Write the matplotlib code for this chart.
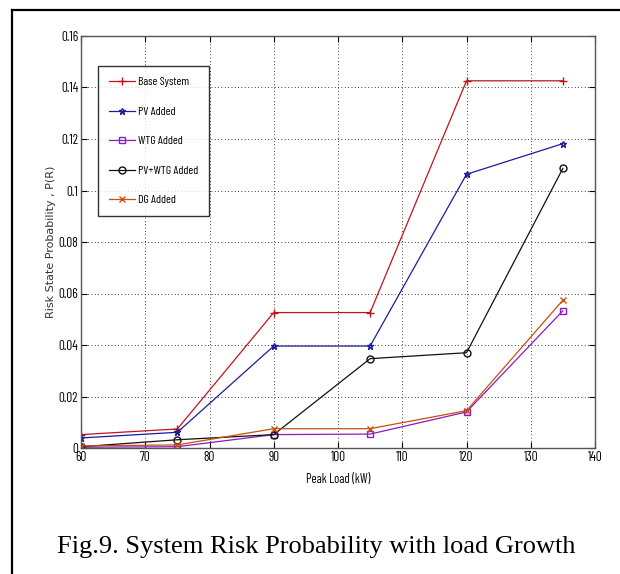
import matplotlib
matplotlib.use("Agg")
import matplotlib.pyplot as plt
from matplotlib.lines import Line2D

# Peak load steps (kW)
peak_load = [60, 75, 90, 105, 120, 135]

# Risk state probability P(R) for each configuration
base_system = [0.0052, 0.0074, 0.0526, 0.0526, 0.1426, 0.1426]
pv_added = [0.0039, 0.0061, 0.0396, 0.0396, 0.1063, 0.1182]
wtg_added = [0.0003, 0.0005, 0.0052, 0.0054, 0.0140, 0.0533]
pv_wtg_added = [0.0005, 0.0032, 0.0052, 0.0347, 0.0370, 0.1086]
dg_added = [0.0008, 0.0012, 0.0075, 0.0075, 0.0145, 0.0574]

series_labels = ["Base System", "PV Added", "WTG Added", "PV+WTG Added", "DG Added"]
x_ticks = [60, 70, 80, 90, 100, 110, 120, 130, 140]
y_ticks = [0, 0.02, 0.04, 0.06, 0.08, 0.1, 0.12, 0.14, 0.16]
y_tick_labels = ["0", "0.02", "0.04", "0.06", "0.08", "0.1", "0.12", "0.14", "0.16"]

narrow = ["Barlow Condensed", "Archivo Narrow", "DejaVu Sans"]

fig = plt.figure(figsize=(6.2, 5.74), dpi=100)
fig.patch.set_facecolor("white")

# outer frame (only left and top edges visible)
fig.add_artist(Line2D([12 / 620, 12 / 620], [0, 1 - 9.5 / 574], color="black", lw=1.6))
fig.add_artist(Line2D([12 / 620, 1], [1 - 9.5 / 574, 1 - 9.5 / 574], color="black", lw=1.6))

ax = fig.add_axes([81 / 620, 126 / 574, 514 / 620, 412 / 574])

styles = [
    (base_system, "#c0141c", "+", 6),
    (pv_added, "#1c1c9c", "*", 5),
    (wtg_added, "#8a1cc0", "s", 5),
    (pv_wtg_added, "#111111", "o", 5),
    (dg_added, "#c8500a", "x", 5),
]
for (vals, col, mk, ms), lab in zip(styles, series_labels):
    ax.plot(peak_load, vals, color=col, marker=mk, ms=ms, mfc="none",
            mec=col, lw=0.9, label=lab)

ax.set_xlim(60, 140)
ax.set_ylim(0, 0.16)
ax.set_xticks(x_ticks)
ax.set_yticks(y_ticks)
ax.set_xticklabels([str(v) for v in x_ticks], family=narrow, fontsize=9.5)
ax.set_yticklabels(y_tick_labels, family=narrow, fontsize=9.5)
ax.tick_params(direction="in", top=True, right=True, length=4, width=0.8, pad=2)
ax.grid(True, color="black", linestyle=(0, (1, 3)), lw=0.6)
for sp in ax.spines.values():
    sp.set_color("#555555")
    sp.set_linewidth(1.0)

ax.set_xlabel("Peak Load (kW)", family=narrow, fontsize=9, labelpad=7)
ax.set_ylabel("Risk State Probability , P(R)", fontsize=8, labelpad=2,
              color="#333333")

leg = ax.legend(loc="upper left", bbox_to_anchor=(16.6 / 514, 1 - 30 / 412),
                prop={"family": narrow, "size": 8.5}, frameon=True, fancybox=False,
                edgecolor="black", handlelength=2.2, handletextpad=0.25,
                labelspacing=1.62, borderpad=0.95, borderaxespad=0)
leg.get_frame().set_linewidth(1.0)

fig.text(316 / 620, 1 - 547 / 574, "Fig.9. System Risk Probability with load Growth",
         family="Liberation Serif", fontsize=19, ha="center", va="center")

fig.savefig("out.png", dpi=100)
